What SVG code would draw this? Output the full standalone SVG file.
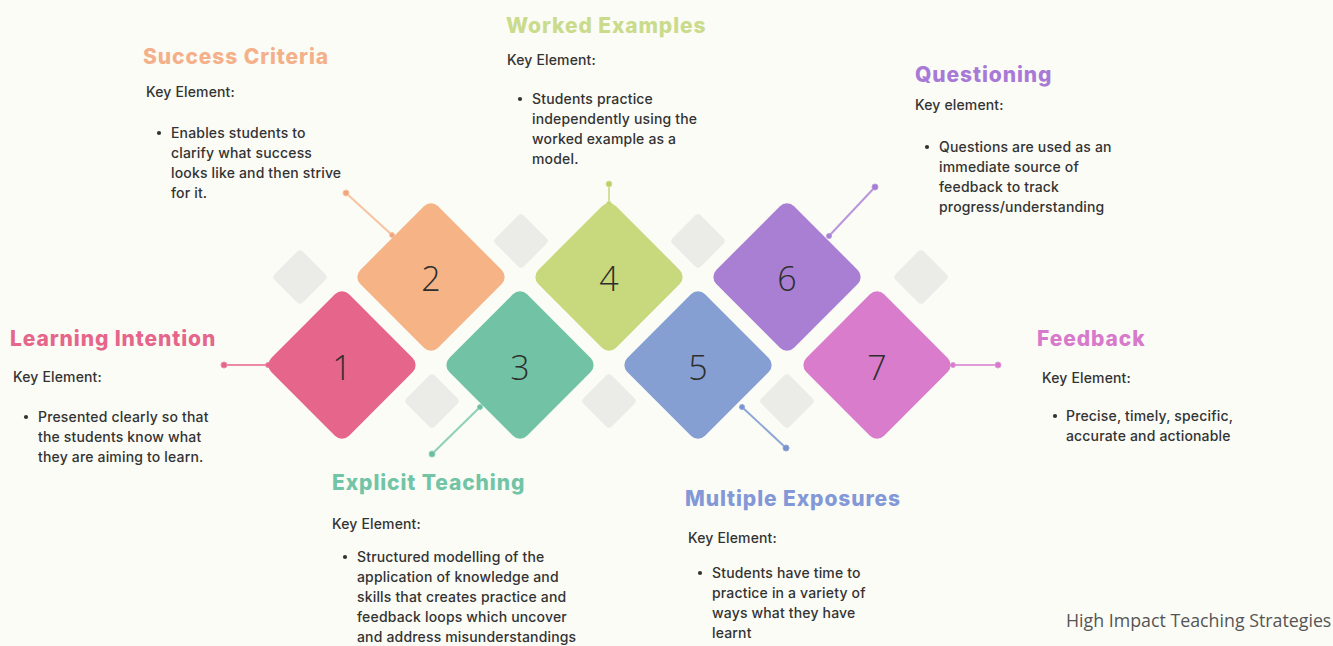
<svg xmlns="http://www.w3.org/2000/svg" width="1333" height="646" viewBox="0 0 1333 646">
<style>
.bg{fill:#fbfcf6}
.deco{fill:#ebebe7}
.num{font-family:"Open Sans",sans-serif;font-weight:300;font-size:34px;fill:#2e2e2e;text-anchor:middle}
.title{font-family:Inter,"Liberation Sans",sans-serif;font-weight:800;font-size:21px;letter-spacing:0.9px}
.key{font-family:Inter,"Liberation Sans",sans-serif;font-weight:500;font-size:14px;letter-spacing:0.15px;fill:#333}
.body{font-family:Inter,"Liberation Sans",sans-serif;font-weight:500;font-size:14px;letter-spacing:0.17px;fill:#333}
.foot{font-family:"Open Sans",sans-serif;font-size:17.8px;fill:#555}
.ln{stroke-width:2;fill:none}
.bul{fill:#333}
</style>
<defs>
<rect id="big" x="-55" y="-55" width="110" height="110" rx="10" transform="rotate(45)"/>
<rect id="small" x="-20" y="-20" width="40" height="40" rx="4" transform="rotate(45)"/>
</defs>
<rect class="bg" x="0" y="0" width="1333" height="646"/>

<g id="decor" class="deco">
<use href="#small" x="300" y="277"/>
<use href="#small" x="521" y="241"/>
<use href="#small" x="432" y="401"/>
<use href="#small" x="609" y="401"/>
<use href="#small" x="698" y="241"/>
<use href="#small" x="787" y="401"/>
<use href="#small" x="921" y="277"/>
</g>

<g id="connectors">
<g stroke="#ec8aa6" fill="#e5668a"><line class="ln" x1="267" y1="365" x2="224" y2="365"/><circle cx="224" cy="365" r="3"/><circle cx="268" cy="365" r="2.5"/></g>
<g stroke="#f7c3a1" fill="#f0a57c"><line class="ln" x1="392" y1="235" x2="346" y2="193"/><circle cx="346" cy="193" r="3"/><circle cx="392" cy="235" r="2.5"/></g>
<g stroke="#8fd0b8" fill="#6bbf9f"><line class="ln" x1="480" y1="407" x2="432" y2="454"/><circle cx="432" cy="454" r="3"/><circle cx="480" cy="407" r="2.5"/></g>
<g stroke="#d3e09a" fill="#bcd06a"><line class="ln" x1="609" y1="204" x2="609" y2="184"/><circle cx="609" cy="184" r="3"/><circle cx="609" cy="204" r="2.5"/></g>
<g stroke="#8ea5d8" fill="#7a93d0"><line class="ln" x1="742" y1="407" x2="786" y2="448"/><circle cx="786" cy="448" r="3"/><circle cx="742" cy="407" r="2.5"/></g>
<g stroke="#b996dc" fill="#a57ed2"><line class="ln" x1="829" y1="236" x2="875" y2="187"/><circle cx="875" cy="187" r="3"/><circle cx="829" cy="236" r="2.5"/></g>
<g stroke="#e29ad8" fill="#d77acb"><line class="ln" x1="953" y1="365" x2="998" y2="365"/><circle cx="998" cy="365" r="3"/><circle cx="953" cy="365" r="2.5"/></g>
</g>

<g id="node1">
<use href="#big" x="342" y="365" fill="#e6658a"/>
<text class="num" x="342" y="380">1</text>
<text class="title" x="10" y="346" fill="#e5668a">Learning Intention</text>
<text class="key" x="13" y="382">Key Element:</text>
<circle class="bul" cx="26" cy="417" r="2.1"/>
<text class="body" x="38" y="422">Presented clearly so that</text>
<text class="body" x="38" y="442">the students know what</text>
<text class="body" x="38" y="462">they are aiming to learn.</text>
</g>

<g id="node2">
<use href="#big" x="431" y="277" fill="#f5b386"/>
<text class="num" x="431" y="291">2</text>
<text class="title" x="143" y="64" fill="#f4b08a">Success Criteria</text>
<text class="key" x="146" y="97">Key Element:</text>
<circle class="bul" cx="159" cy="133" r="2.1"/>
<text class="body" x="171" y="138">Enables students to</text>
<text class="body" x="171" y="158">clarify what success</text>
<text class="body" x="171" y="178">looks like and then strive</text>
<text class="body" x="171" y="198">for it.</text>
</g>

<g id="node3">
<use href="#big" x="520" y="365" fill="#72c3a5"/>
<text class="num" x="520" y="380">3</text>
<text class="title" x="332" y="490" fill="#72c4a6">Explicit Teaching</text>
<text class="key" x="332" y="529">Key Element:</text>
<circle class="bul" cx="345" cy="557" r="2.1"/>
<text class="body" x="357" y="562">Structured modelling of the</text>
<text class="body" x="357" y="582">application of knowledge and</text>
<text class="body" x="357" y="602">skills that creates practice and</text>
<text class="body" x="357" y="622">feedback loops which uncover</text>
<text class="body" x="357" y="642">and address misunderstandings</text>
</g>

<g id="node4">
<use href="#big" x="609" y="277" fill="#c8d87c"/>
<text class="num" x="609" y="291">4</text>
<text class="title" x="506" y="33" fill="#cadb8c">Worked Examples</text>
<text class="key" x="507" y="65">Key Element:</text>
<circle class="bul" cx="520" cy="99" r="2.1"/>
<text class="body" x="532" y="104">Students practice</text>
<text class="body" x="532" y="124">independently using the</text>
<text class="body" x="532" y="144">worked example as a</text>
<text class="body" x="532" y="164">model.</text>
</g>

<g id="node5">
<use href="#big" x="698" y="365" fill="#869fd3"/>
<text class="num" x="698" y="380">5</text>
<text class="title" x="685" y="506" fill="#8398d6">Multiple Exposures</text>
<text class="key" x="688" y="543">Key Element:</text>
<circle class="bul" cx="700" cy="573" r="2.1"/>
<text class="body" x="712" y="578">Students have time to</text>
<text class="body" x="712" y="598">practice in a variety of</text>
<text class="body" x="712" y="618">ways what they have</text>
<text class="body" x="712" y="638">learnt</text>
</g>

<g id="node6">
<use href="#big" x="787" y="277" fill="#a97fd3"/>
<text class="num" x="787" y="291">6</text>
<text class="title" x="915" y="82" fill="#a979d6">Questioning</text>
<text class="key" x="915" y="110">Key element:</text>
<circle class="bul" cx="927" cy="147" r="2.1"/>
<text class="body" x="939" y="152">Questions are used as an</text>
<text class="body" x="939" y="172">immediate source of</text>
<text class="body" x="939" y="192">feedback to track</text>
<text class="body" x="939" y="212">progress/understanding</text>
</g>

<g id="node7">
<use href="#big" x="877" y="365" fill="#d97ccc"/>
<text class="num" x="877" y="380">7</text>
<text class="title" x="1037" y="346" fill="#d77acb">Feedback</text>
<text class="key" x="1042" y="383">Key Element:</text>
<circle class="bul" cx="1055" cy="416" r="2.1"/>
<text class="body" x="1066" y="421">Precise, timely, specific,</text>
<text class="body" x="1066" y="441">accurate and actionable</text>
</g>

<text class="foot" x="1066" y="627">High Impact Teaching Strategies</text>
</svg>
